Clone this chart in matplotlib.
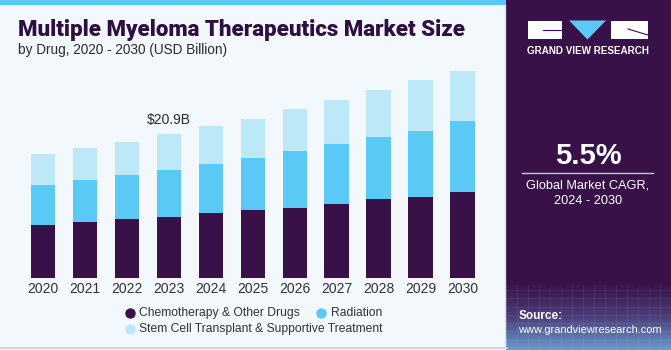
import matplotlib
matplotlib.use("Agg")
import matplotlib.pyplot as plt
import numpy as np
from matplotlib.patches import Rectangle, Polygon
from matplotlib.colors import LinearSegmentedColormap

years = ["2020", "2021", "2022", "2023", "2024", "2025", "2026", "2027", "2028", "2029", "2030"]
chemo = [7.7, 8.1, 8.6, 8.9, 9.5, 9.8, 10.2, 10.8, 11.4, 11.7, 12.5]
radiation = [5.8, 6.1, 6.3, 6.8, 7.1, 7.6, 8.2, 8.7, 9.0, 9.7, 10.3]
stem_cell = [4.5, 4.6, 4.8, 5.2, 5.5, 5.7, 6.1, 6.3, 6.9, 7.3, 7.4]
series_names = ["Chemotherapy & Other Drugs", "Radiation", "Stem Cell Transplant & Supportive Treatment"]
highlight_year = "2023"
highlight_label = "$20.9B"
cagr = "5.5%"

W, H = 671, 350
fig = plt.figure(figsize=(W / 100, H / 100), dpi=100)
fig.patch.set_facecolor("#F3F8FC")
plt.rcParams['font.family'] = ['Liberation Sans', 'DejaVu Sans']

def fx(px):
    return px / W

def fy(py):
    return 1 - py / H

bg = fig.add_axes([0, 0, 1, 1])
bg.set_xlim(0, W)
bg.set_ylim(H, 0)
bg.axis("off")
bg.set_zorder(-1)
# left panel
bg.add_patch(Rectangle((0, 0), 507, 350, facecolor="#F3F8FC", edgecolor="none"))
bg.add_patch(Rectangle((0, 0), 507, 5, facecolor="#5BC8F5", edgecolor="none"))
bg.plot([0, 507], [348, 348], color="#C8CCD0", lw=1.2)
bg.plot([505, 505], [5, 348], color="#DDE3E8", lw=1)
# right panel
bg.add_patch(Rectangle((506, 0), 165, 350, facecolor="#371147", edgecolor="none"))
grad = np.linspace(0, 1, 100).reshape(-1, 1)
cmap = LinearSegmentedColormap.from_list("g", ["#371147", "#4A3C78", "#6A9ACB"])
bg.imshow(grad, extent=(506, 671, 350, 282), aspect="auto", cmap=cmap, zorder=1)
for yy in np.linspace(290, 348, 8):
    bg.plot([506, 671], [yy, yy], color="white", alpha=0.08, lw=0.6, zorder=2)
for xx in np.linspace(506, 671, 16):
    bg.plot([xx, xx], [285, 350], color="white", alpha=0.08, lw=0.6, zorder=2)
# logo
bg.add_patch(Rectangle((528, 20.5), 34, 18.5, facecolor="white", edgecolor="none", zorder=3))
bg.add_patch(Polygon([(569, 20.5), (606, 20.5), (587.5, 39.5)], closed=True, facecolor="#5BC8F5", edgecolor="none", zorder=3))
bg.add_patch(Rectangle((611, 20.5), 37, 18.5, facecolor="white", edgecolor="none", zorder=3))
bg.plot([543, 562], [30, 30], color="#371147", lw=0.8, zorder=4)
bg.plot([628, 648], [29, 35], color="#371147", lw=0.8, zorder=4)
bg.text(588, 51, "GRAND VIEW RESEARCH", color="white", fontsize=7.1, fontweight="bold",
        ha="center", va="center", zorder=5)
bg.text(588, 156, cagr, color="white", fontsize=21, fontweight="bold", ha="center", va="center", zorder=5)
bg.plot([522, 653], [173, 173], color="#CFC4D8", lw=1, zorder=5)
bg.text(588, 186, "Global Market CAGR,", color="white", fontsize=9.2, ha="center", va="center", zorder=5)
bg.text(588, 201, "2024 - 2030", color="white", fontsize=9.2, ha="center", va="center", zorder=5)
bg.text(519, 316, "Source:", color="white", fontsize=8.5, fontweight="bold", ha="left", va="center", zorder=5)
bg.text(518, 330, "www.grandviewresearch.com", color="white", fontsize=7.9, ha="left", va="center", zorder=5)

# titles
bg.text(18, 30, "Multiple Myeloma Therapeutics Market Size", color="#2E0F40", fontsize=16,
        fontweight="heavy", ha="left", va="center", family=["Roboto", "DejaVu Sans"])
bg.text(18, 50, "by Drug, 2020 - 2030 (USD Billion)", color="#2B2B2B", fontsize=9.8,
        ha="left", va="center")

# main chart
unit = 41.95
x0 = 43
left_px = x0 - 0.6 * unit
width_px = 11.2 * unit
ymax = 30
scale = 20.9 / 144.0
h_px = ymax / scale
ax = fig.add_axes([fx(left_px), fy(278), width_px / W, h_px / H])
ax.patch.set_alpha(0)
x = np.arange(len(years))
c1, c2, c3 = "#371147", "#5BC9F5", "#BDE8F8"
bw = 0.58
ax.bar(x, chemo, width=bw, color=c1, edgecolor="none")
b2 = np.array(chemo)
ax.bar(x, radiation, width=bw, bottom=b2, color=c2, edgecolor="none")
b3 = b2 + np.array(radiation)
ax.bar(x, stem_cell, width=bw, bottom=b3, color=c3, edgecolor="none")
tot = b3 + np.array(stem_cell)
hi = years.index(highlight_year)
ax.text(hi, tot[hi] + 1.0, highlight_label, ha="center", va="bottom", fontsize=10, color="#2B2B2B")
ax.set_xlim(-0.6, 10.6)
ax.set_ylim(0, ymax)
ax.set_xticks(x)
ax.set_xticklabels(years, fontsize=10, color="#333333")
ax.tick_params(axis="x", length=0, pad=3)
ax.set_yticks([])
for s in ax.spines.values():
    s.set_visible(False)

# legend
bg.scatter([130], [313], s=42, color=c1, zorder=5)
bg.text(139, 313, series_names[0], fontsize=8.7, color="#333333", va="center", ha="left")
bg.scatter([321], [313], s=42, color=c2, zorder=5)
bg.text(331, 313, series_names[1], fontsize=8.7, color="#333333", va="center", ha="left")
bg.scatter([130], [329], s=42, color=c3, zorder=5)
bg.text(139, 329, series_names[2], fontsize=8.7, color="#333333", va="center", ha="left")

fig.savefig("out.png", dpi=100, facecolor=fig.get_facecolor())
